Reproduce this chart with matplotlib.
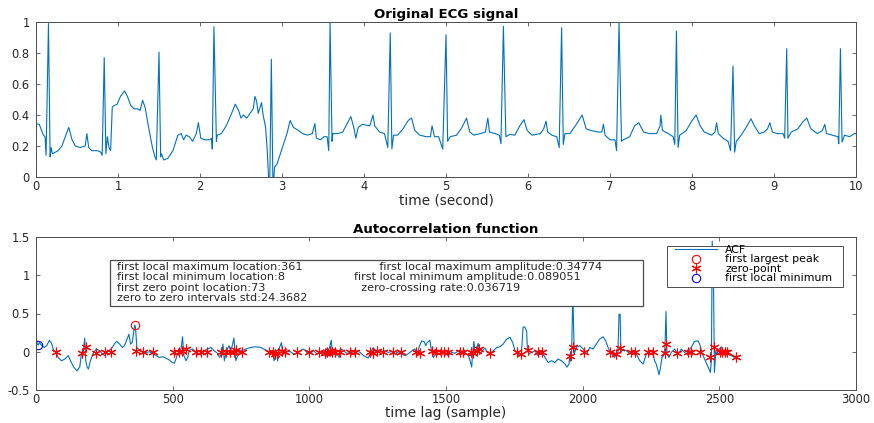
import matplotlib
matplotlib.use("Agg")
import matplotlib.pyplot as plt
from matplotlib.patches import Rectangle

plt.rcParams['font.family'] = ['DejaVu Sans']

# ECG trace, time (s) and normalised amplitude
ecg_t = [0.00, 0.04, 0.09, 0.11, 0.123, 0.152, 0.172, 0.184, 0.20, 0.234, 0.27, 0.316, 0.357, 0.40, 0.44,
         0.48, 0.54, 0.60, 0.62, 0.643, 0.68, 0.75, 0.79, 0.807, 0.832, 0.852, 0.87, 0.89, 0.91, 0.93,
         0.95, 0.99, 1.03, 1.08, 1.115, 1.156, 1.197, 1.24, 1.27, 1.30, 1.33, 1.38, 1.42, 1.45, 1.467,
         1.50, 1.52, 1.53, 1.557, 1.607, 1.67, 1.73, 1.77, 1.80, 1.83, 1.87, 1.91, 1.955, 1.98, 2.01,
         2.06, 2.12, 2.14, 2.15, 2.17, 2.20, 2.21, 2.26, 2.32, 2.385, 2.43, 2.47, 2.50, 2.53, 2.57,
         2.61, 2.65, 2.67, 2.69, 2.71, 2.75, 2.77, 2.80, 2.82, 2.836, 2.85, 2.87, 2.89, 2.91, 2.94,
         2.98, 3.02, 3.06, 3.10, 3.14, 3.20, 3.25, 3.31, 3.37, 3.40, 3.42, 3.47, 3.51, 3.55, 3.57,
         3.586, 3.61, 3.62, 3.68, 3.74, 3.78, 3.84, 3.88, 3.90, 3.93, 3.98, 4.07, 4.11, 4.13, 4.19,
         4.25, 4.29, 4.32, 4.34, 4.36, 4.41, 4.475, 4.54, 4.58, 4.62, 4.68, 4.76, 4.81, 4.83, 4.86,
         4.91, 4.96, 5.00, 5.02, 5.05, 5.13, 5.195, 5.25, 5.29, 5.34, 5.42, 5.48, 5.51, 5.53, 5.60,
         5.65, 5.67, 5.70, 5.73, 5.78, 5.84, 5.90, 5.95, 5.99, 6.05, 6.15, 6.19, 6.22, 6.24, 6.29,
         6.35, 6.38, 6.41, 6.43, 6.45, 6.51, 6.59, 6.66, 6.71, 6.77, 6.86, 6.90, 6.92, 6.94, 7.00,
         7.06, 7.08, 7.11, 7.14, 7.16, 7.24, 7.30, 7.35, 7.41, 7.48, 7.57, 7.61, 7.62, 7.64, 7.71,
         7.77, 7.79, 7.81, 7.83, 7.85, 7.93, 7.99, 8.05, 8.10, 8.15, 8.24, 8.28, 8.30, 8.32, 8.38,
         8.44, 8.47, 8.50, 8.52, 8.54, 8.60, 8.66, 8.72, 8.76, 8.82, 8.88, 8.92, 8.95, 8.98, 9.04,
         9.11, 9.13, 9.155, 9.17, 9.21, 9.29, 9.35, 9.40, 9.45, 9.53, 9.59, 9.62, 9.64, 9.71, 9.78,
         9.79, 9.81, 9.83, 9.86, 9.92, 9.98, 10.0]
ecg_v = [0.344, 0.34, 0.27, 0.26, 0.14, 0.99, 0.13, 0.19, 0.15, 0.16, 0.17, 0.20, 0.26, 0.32, 0.24,
         0.20, 0.19, 0.20, 0.28, 0.19, 0.17, 0.17, 0.16, 0.14, 0.77, 0.15, 0.26, 0.19, 0.17, 0.45,
         0.46, 0.47, 0.52, 0.555, 0.52, 0.46, 0.44, 0.44, 0.43, 0.495, 0.45, 0.30, 0.19, 0.13, 0.11,
         0.806, 0.13, 0.15, 0.11, 0.12, 0.17, 0.27, 0.28, 0.24, 0.27, 0.26, 0.23, 0.28, 0.35, 0.25,
         0.24, 0.24, 0.25, 0.18, 0.97, 0.23, 0.27, 0.28, 0.33, 0.41, 0.47, 0.43, 0.38, 0.40, 0.38,
         0.41, 0.44, 0.52, 0.49, 0.41, 0.48, 0.40, 0.32, 0.17, 0.0, -0.06, 0.76, -0.08, 0.065, 0.085,
         0.15, 0.215, 0.28, 0.365, 0.32, 0.30, 0.28, 0.27, 0.28, 0.345, 0.25, 0.24, 0.26, 0.26, 0.17,
         1.0, 0.23, 0.28, 0.28, 0.29, 0.33, 0.39, 0.31, 0.25, 0.32, 0.34, 0.33, 0.40, 0.33, 0.29,
         0.28, 0.19, 0.93, 0.18, 0.27, 0.27, 0.31, 0.365, 0.38, 0.30, 0.27, 0.26, 0.26, 0.33, 0.26,
         0.26, 0.18, 0.918, 0.23, 0.26, 0.27, 0.32, 0.38, 0.29, 0.27, 0.28, 0.29, 0.38, 0.29, 0.28,
         0.27, 0.215, 0.972, 0.26, 0.275, 0.27, 0.33, 0.37, 0.30, 0.27, 0.28, 0.31, 0.36, 0.29, 0.27,
         0.26, 0.19, 0.963, 0.21, 0.28, 0.28, 0.34, 0.40, 0.31, 0.30, 0.29, 0.29, 0.34, 0.27, 0.24,
         0.24, 0.17, 0.996, 0.23, 0.24, 0.26, 0.33, 0.35, 0.29, 0.28, 0.28, 0.33, 0.40, 0.30, 0.28,
         0.26, 0.21, 0.942, 0.19, 0.27, 0.30, 0.355, 0.40, 0.33, 0.29, 0.27, 0.29, 0.35, 0.28, 0.25,
         0.23, 0.17, 0.716, 0.16, 0.23, 0.27, 0.32, 0.375, 0.33, 0.28, 0.29, 0.31, 0.35, 0.29, 0.28,
         0.28, 0.25, 0.828, 0.25, 0.29, 0.31, 0.355, 0.38, 0.31, 0.28, 0.30, 0.34, 0.28, 0.27, 0.26,
         0.215, 0.828, 0.225, 0.27, 0.26, 0.28, 0.28]

# autocorrelation, lag in samples
acf_lag = [0, 2, 5, 8, 12, 21, 29, 39, 49, 57, 65, 73, 81, 93, 106, 118, 126, 138, 150, 160, 166, 172,
           178, 182, 187, 192, 199, 209, 221, 233, 243, 251, 260, 269, 279, 288, 296, 306, 316, 324, 333,
           340, 346, 352, 361, 364, 369, 379, 391, 403, 415, 427, 439, 451, 464, 476, 488, 498, 506, 512,
           518, 524, 530, 536, 541, 549, 555, 561, 573, 585, 597, 612, 627, 640, 652, 664, 672, 680, 684,
           689, 697, 706, 712, 718, 724, 731, 740, 749, 767, 785, 803, 822, 834, 846, 854, 864, 871, 879,
           884, 891, 898, 903, 910, 919, 931, 943, 955, 967, 979, 991, 1004, 1016, 1028, 1040, 1052, 1061,
           1068, 1074, 1080, 1085, 1092, 1101, 1109, 1117, 1125, 1137, 1155, 1174, 1186, 1198, 1210, 1216,
           1226, 1234, 1243, 1252, 1265, 1277, 1289, 1301, 1313, 1325, 1337, 1352, 1364, 1376, 1386, 1396,
           1401, 1411, 1420, 1426, 1431, 1441, 1447, 1454, 1463, 1472, 1484, 1496, 1509, 1521, 1533, 1545,
           1557, 1569, 1582, 1588, 1594, 1597, 1602, 1607, 1612, 1618, 1624, 1634, 1642, 1651, 1661, 1673,
           1685, 1697, 1709, 1722, 1734, 1744, 1752, 1761, 1770, 1776, 1782, 1788, 1795, 1798, 1804, 1813,
           1825, 1837, 1849, 1862, 1874, 1886, 1898, 1910, 1922, 1935, 1943, 1950, 1953, 1959, 1963, 1965,
           1969, 1977, 1989, 2002, 2014, 2026, 2038, 2050, 2062, 2075, 2084, 2093, 2101, 2111, 2117, 2123,
           2129, 2133, 2137, 2140, 2148, 2160, 2172, 2184, 2196, 2209, 2221, 2233, 2245, 2257, 2263, 2269,
           2276, 2279, 2284, 2290, 2296, 2301, 2305, 2308, 2316, 2324, 2336, 2349, 2361, 2373, 2385, 2397,
           2409, 2422, 2428, 2438, 2446, 2454, 2462, 2467, 2471, 2474, 2479, 2482, 2487, 2491, 2499, 2508,
           2514, 2523, 2531, 2543, 2556, 2562]
acf_val = [1.0, 0.14, 0.10, 0.089, 0.12, 0.08, 0.056, 0.08, 0.15, 0.11, 0.013, 0.0, -0.074, -0.117,
           -0.095, -0.05, -0.117, -0.2, -0.25, -0.2, -0.03, -0.05, 0.18, -0.117, -0.2, -0.225, -0.117,
           -0.02, 0.035, 0.013, -0.03, -0.05, -0.009, 0.013, 0.056, 0.11, 0.135, 0.10, 0.056, 0.08, 0.165,
           0.23, 0.10, 0.12, 0.348, 0.32, 0.056, 0.013, 0.0, -0.009, 0.0, -0.02, -0.05, -0.074, -0.065,
           -0.087, -0.108, -0.14, -0.15, -0.095, -0.02, -0.05, 0.013, 0.195, -0.05, -0.117, -0.074, 0.02,
           0.035, -0.009, -0.03, -0.009, 0.035, 0.056, 0.013, -0.02, -0.074, -0.009, 0.10, -0.117, 0.013,
           0.08, 0.013, 0.08, 0.18, -0.117, -0.03, 0.013, 0.035, 0.056, 0.065, 0.056, 0.035, 0.013, -0.02,
           -0.009, -0.117, 0.013, -0.117, 0.056, 0.12, -0.03, 0.013, 0.004, 0.0, -0.03, -0.02, 0.013,
           0.035, -0.009, -0.02, 0.013, -0.03, 0.0, -0.03, -0.065, 0.013, 0.056, 0.15, -0.05, 0.013, -0.03,
           -0.074, 0.035, 0.013, -0.02, -0.009, 0.013, -0.009, -0.05, -0.074, -0.08, 0.004, 0.056, -0.009,
           0.013, 0.0, 0.013, -0.009, 0.004, -0.03, 0.0, -0.03, -0.05, -0.02, 0.013, 0.035, -0.03, 0.056,
           0.143, 0.13, 0.08, 0.12, 0.15, 0.013, -0.074, -0.03, 0.02, 0.004, -0.03, -0.05, -0.009, -0.02,
           0.013, -0.03, -0.009, -0.05, -0.117, -0.2, -0.03, 0.135, -0.03, 0.056, 0.11, -0.03, 0.013,
           0.048, -0.009, -0.02, 0.013, 0.056, 0.065, 0.10, 0.165, 0.19, 0.12, 0.02, -0.03, -0.05, -0.02,
           0.32, 0.325, 0.27, 0.013, -0.03, -0.009, 0.013, -0.05, 0.013, -0.074, -0.14, -0.117, -0.14,
           -0.095, -0.117, -0.16, -0.2, -0.16, -0.03, -0.117, 0.6, 0.62, -0.03, 0.056, 0.08, 0.035, -0.03,
           0.056, 0.035, 0.10, 0.165, 0.195, 0.143, 0.056, -0.009, -0.05, -0.074, -0.03, -0.009, 0.49,
           0.49, -0.009, 0.035, 0.013, -0.02, 0.013, -0.03, -0.117, -0.16, -0.03, 0.013, -0.009, -0.117,
           -0.16, -0.25, -0.3, -0.225, -0.074, -0.05, 0.056, 0.525, -0.03, -0.074, -0.009, 0.035, -0.03,
           0.035, -0.009, 0.013, 0.056, 0.135, 0.143, 0.10, -0.03, -0.095, -0.16, -0.225, -0.27, -0.117,
           1.445, 0.79, -0.27, 0.013, -0.03, 0.035, 0.065, -0.02, 0.013, -0.03, -0.05, -0.074, -0.065]

# zero points
zp_lag = [73, 170, 182, 221, 251, 275, 366, 391, 427, 506, 524, 534, 549, 585, 603, 627, 676, 694, 709,
          725, 733, 755, 852, 867, 876, 886, 900, 910, 955, 998, 1034, 1056, 1064, 1076, 1083, 1095, 1113,
          1149, 1167, 1222, 1234, 1246, 1270, 1306, 1337, 1392, 1405, 1448, 1463, 1480, 1493, 1509, 1551,
          1563, 1590, 1600, 1612, 1622, 1661, 1761, 1773, 1801, 1837, 1853, 1955, 1965, 2004, 2101, 2123,
          2138, 2178, 2190, 2239, 2257, 2300, 2306, 2345, 2385, 2397, 2430, 2467, 2479, 2503, 2511, 2519,
          2528, 2562]
zp_val = [0.0, -0.01, 0.065, -0.01, 0.0, 0.0, 0.013, 0.0, 0.0, 0.0, 0.0, 0.013, 0.035, 0.0, 0.0, 0.0,
          0.0, 0.0, 0.0, 0.0, 0.02, 0.0, 0.0, 0.0, -0.03, -0.01, 0.013, 0.0, 0.0, 0.0, 0.0, -0.01, 0.0,
          0.013, 0.0, 0.0, 0.0, 0.0, 0.0, 0.0, -0.01, 0.013, 0.0, 0.0, 0.0, 0.0, -0.02, 0.013, 0.0, 0.0,
          0.0, 0.0, 0.0, 0.0, 0.0, -0.01, 0.013, 0.035, -0.01, 0.0, -0.03, 0.02, 0.0, 0.0, -0.05, 0.065,
          0.0, 0.0, -0.03, 0.048, 0.0, 0.0, 0.0, 0.0, -0.02, 0.10, -0.02, 0.0, 0.0, 0.0, -0.074, 0.065,
          0.0, 0.0, 0.0, 0.0, -0.065]

peak_lag, peak_val = 361, 0.34774
min_lag, min_val = 8, 0.089051

info_left = ["first local maximum location:361",
             "first local minimum location:8",
             "first zero point location:73",
             "zero to zero intervals std:24.3682"]
# leading spaces give the ragged left edge of the second column
info_right = ["       first local maximum amplitude:0.34774",
              "first local minimum amplitude:0.089051",
              "  zero-crossing rate:0.036719"]

top_yticks = [0, 0.2, 0.4, 0.6, 0.8, 1]
top_ylabels = ['0', '0.2', '0.4', '0.6', '0.8', '1']
bot_yticks = [-0.5, 0, 0.5, 1, 1.5]
bot_ylabels = ['-0.5', '0', '0.5', '1', '1.5']

blue = '#0072BD'
axcol = '#4d4d4d'
txtcol = '#262626'
W, H = 874, 423

fig = plt.figure(figsize=(8.74, 4.23), dpi=100)
ax1 = fig.add_axes([36 / W, 1 - 177 / H, 820 / W, 155 / H])
ax2 = fig.add_axes([36 / W, 1 - 390 / H, 820 / W, 153 / H])

for ax in (ax1, ax2):
    ax.tick_params(direction='in', top=True, right=True, length=3, width=0.6,
                   labelsize=8.3, colors=axcol, labelcolor=txtcol)
    ax.tick_params(axis='x', pad=2.5)
    ax.tick_params(axis='y', pad=4.5)
    for s in ax.spines.values():
        s.set_color(axcol)
        s.set_linewidth(0.7)

# top: raw ECG
ax1.plot(ecg_t, ecg_v, color=blue, lw=0.8)
ax1.set_xlim(0, 10)
ax1.set_ylim(0, 1)
ax1.set_xticks(range(0, 11))
ax1.set_yticks(top_yticks)
ax1.set_yticklabels(top_ylabels)
ax1.set_title('Original ECG signal', fontsize=9.6, fontweight='bold', pad=3)
ax1.set_xlabel('time (second)', fontsize=9.8, labelpad=0, color=txtcol)

# bottom: ACF with markers
ax2.plot(acf_lag, acf_val, color=blue, lw=0.8, label='ACF')
ax2.plot([peak_lag], [peak_val], 'o', mfc='none', mec='#ff0000', ms=6, mew=0.8,
         label='first largest peak')
ax2.plot(zp_lag, zp_val, ls='none', marker=(6, 2, 0), color='#ff0000', ms=7, mew=0.8,
         label='zero-point')
ax2.plot([min_lag], [min_val], 'o', mfc='none', mec='#0000ff', ms=6, mew=0.8,
         label='first local minimum')
ax2.set_xlim(0, 3000)
ax2.set_ylim(-0.5, 1.5)
ax2.set_xticks(range(0, 3001, 500))
ax2.set_yticks(bot_yticks)
ax2.set_yticklabels(bot_ylabels)
ax2.set_title('Autocorrelation function', fontsize=9.6, fontweight='bold', pad=3)
ax2.set_xlabel('time lag (sample)', fontsize=9.8, labelpad=0, color=txtcol)

# legend frame drawn separately so the padding can differ per side
legbox = Rectangle((667 / W, 1 - 287 / H), 176 / W, 41 / H, transform=fig.transFigure,
                   facecolor='white', edgecolor=axcol, lw=0.7, zorder=4.5)
ax2.add_patch(legbox)
ax2.legend(loc='upper left', bbox_to_anchor=(675 / W, 1 - 245 / H),
           bbox_transform=fig.transFigure, borderaxespad=0, borderpad=0, fontsize=7.9,
           handlelength=3.85, handletextpad=0.72, labelspacing=-0.05, frameon=False)

# info box
box = Rectangle((110 / W, 1 - 306 / H), 533 / W, 46 / H, transform=fig.transFigure,
                facecolor='white', edgecolor=axcol, lw=0.9, zorder=5)
fig.add_artist(box)
fig.text(117 / W, 1 - 262 / H, '\n'.join(info_left), fontsize=8.1, va='top', ha='left',
         linespacing=1.05, color=txtcol, zorder=6)
fig.text(354 / W, 1 - 262 / H, '\n'.join(info_right), fontsize=8.1, va='top', ha='left',
         linespacing=1.05, color=txtcol, zorder=6)

fig.savefig('out.png', dpi=100)
